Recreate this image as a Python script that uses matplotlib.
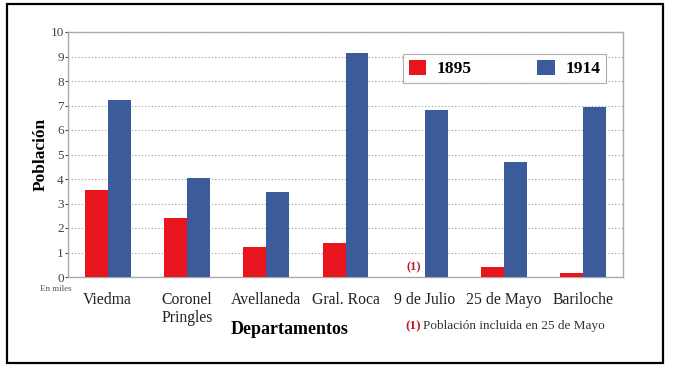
import numpy as np
import matplotlib.pyplot as plt
from matplotlib.patches import Rectangle

departamentos = ['Viedma', 'Coronel\nPringles', 'Avellaneda', 'Gral. Roca',
                 '9 de Julio', '25 de Mayo', 'Bariloche']
pob_1895 = [3.55, 2.42, 1.22, 1.38, 0.0, 0.40, 0.17]
pob_1914 = [7.22, 4.04, 3.47, 9.14, 6.80, 4.70, 6.94]

RED = '#e8141e'
BLUE = '#3b5b9a'

plt.rcParams['font.family'] = ['Liberation Serif', 'DejaVu Serif']

fig = plt.figure(figsize=(6.75, 3.7), dpi=100)
ax = fig.add_axes([68 / 675, 1 - 277 / 370, 555 / 675, 245 / 370])

x = np.arange(len(departamentos))
w = 0.29
ax.bar(x - w / 2, pob_1895, w, color=RED, label='1895', zorder=3)
ax.bar(x + w / 2, pob_1914, w, color=BLUE, label='1914', zorder=3)

ax.set_xlim(-0.5, len(departamentos) - 0.5)
ax.set_ylim(0, 10)
ax.set_yticks(range(0, 11))
ax.tick_params(axis='y', labelsize=9.5, colors='#444444', length=2, pad=1)
ax.set_xticks(x)
ax.set_xticklabels(departamentos, fontsize=11.3, color='#222222', linespacing=1.15)
ax.tick_params(axis='x', length=0, pad=11)
ax.yaxis.grid(True, linestyle=(0, (1, 2)), color='#999999', linewidth=0.8, zorder=0)
for s in ax.spines.values():
    s.set_color('#aaaaaa')
    s.set_linewidth(1.0)

ax.set_ylabel('Población', fontsize=12.5, fontweight='bold', labelpad=1)
ax.set_xlabel('Departamentos', fontsize=13, fontweight='bold', labelpad=-4, x=0.4)

# nota 9 de Julio
ax.text(4 - w / 2, 0.15, '(1)', color='#c0192a', fontsize=9, fontweight='bold',
        ha='center', va='bottom', zorder=4)

leg = ax.legend(loc='upper right', bbox_to_anchor=(0.97, 0.912), ncol=2, frameon=True,
                fancybox=False, edgecolor='#999999', borderaxespad=0,
                prop={'weight': 'bold', 'size': 12.5}, columnspacing=3.8,
                handlelength=1.0, handleheight=1.0, handletextpad=0.6,
                borderpad=0.35)
leg.get_frame().set_linewidth(0.8)

fig.text(40 / 675, 1 - 289 / 370, 'En miles', fontsize=6.5, color='#555555',
         ha='left', va='center')
fig.text(405 / 675, 1 - 326 / 370, '(1)', fontsize=9.5, color='#c0192a',
         fontweight='bold', ha='left', va='center')
fig.text(423 / 675, 1 - 326 / 370, 'Población incluida en 25 de Mayo', fontsize=9.5,
         color='#333333', ha='left', va='center')

fig.patches.append(Rectangle((7 / 675, 1 - 363 / 370), 656 / 675, 359 / 370,
                             transform=fig.transFigure, fill=False,
                             edgecolor='black', linewidth=1.6))

fig.savefig('out.png', dpi=100)
